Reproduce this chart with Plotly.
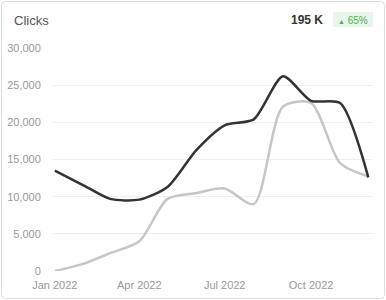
import plotly.graph_objects as go

months = ["2022-01-01", "2022-02-01", "2022-03-01", "2022-04-01", "2022-05-01", "2022-06-01",
          "2022-07-01", "2022-08-01", "2022-09-01", "2022-10-01", "2022-11-01", "2022-12-01"]
current = [13500, 11500, 9700, 9600, 11300, 16300, 19600, 20400, 26200, 22900, 22600, 12600]
previous = [0, 1000, 2400, 4000, 9700, 10500, 11100, 9000, 22100, 22600, 14500, 12700]
tick_vals = ["2022-01-01", "2022-04-01", "2022-07-01", "2022-10-01"]
tick_text = ["Jan 2022", "Apr 2022", "Jul 2022", "Oct 2022"]
y_ticks = [0, 5000, 10000, 15000, 20000, 25000, 30000]

W, H = 386, 300
L, R, T, B = 52, 13, 48, 29
pw, ph = W - L - R, H - T - B

def px(x):
    return (x - L) / pw

def py(y):
    return (H - B - y) / ph

fig = go.Figure()
fig.add_trace(go.Scatter(x=months, y=previous, mode="lines",
                         line=dict(color="#c6c6c6", width=2.5, shape="spline", smoothing=0.75),
                         hoverinfo="skip"))
fig.add_trace(go.Scatter(x=months, y=current, mode="lines",
                         line=dict(color="#333333", width=2.5, shape="spline", smoothing=0.7),
                         hoverinfo="skip"))

# card border with rounded corners
x0, x1, y0, y1, r = 1.5, 384.5, 1.5, 298.5, 4
path = (f"M {px(x0 + r)} {py(y0)} L {px(x1 - r)} {py(y0)} Q {px(x1)} {py(y0)} {px(x1)} {py(y0 + r)} "
        f"L {px(x1)} {py(y1 - r)} Q {px(x1)} {py(y1)} {px(x1 - r)} {py(y1)} "
        f"L {px(x0 + r)} {py(y1)} Q {px(x0)} {py(y1)} {px(x0)} {py(y1 - r)} "
        f"L {px(x0)} {py(y0 + r)} Q {px(x0)} {py(y0)} {px(x0 + r)} {py(y0)} Z")
shapes = [
    dict(type="path", xref="paper", yref="paper", path=path,
         line=dict(color="#dddddd", width=1), layer="below"),
    dict(type="rect", xref="paper", yref="paper", x0=px(333), x1=px(373), y0=py(12), y1=py(27),
         fillcolor="#e8f5e9", line=dict(width=0), layer="below"),
]

annotations = [
    dict(text="Clicks", xref="paper", yref="paper", x=px(12), y=py(20), xanchor="left", yanchor="middle",
         showarrow=False, font=dict(family="Liberation Sans, Arial", size=13, color="#555555")),
    dict(text="<b>195 K</b>", xref="paper", yref="paper", x=px(325), y=py(20), xanchor="right", yanchor="middle",
         showarrow=False, font=dict(family="Liberation Sans, Arial", size=12, color="#333333")),
    dict(text="<span style='font-size:7px'>▲</span> 65%", xref="paper", yref="paper", x=px(353), y=py(20),
         xanchor="center", yanchor="middle",
         showarrow=False, font=dict(family="Liberation Sans, Arial", size=10, color="#4caf50")),
]

fig.update_layout(
    width=W, height=H,
    margin=dict(l=L, r=R, t=T, b=B, pad=0, autoexpand=False),
    paper_bgcolor="white", plot_bgcolor="white",
    showlegend=False,
    shapes=shapes, annotations=annotations,
    font=dict(family="Liberation Sans, Arial", size=11, color="#999999"),
    xaxis=dict(range=["2021-12-29", "2022-12-06"], tickvals=tick_vals, ticktext=tick_text,
               showgrid=False, zeroline=False, showline=False, automargin=False,
               ticks="outside", ticklen=4, tickcolor="rgba(0,0,0,0)",
               tickfont=dict(size=11, color="#999999")),
    yaxis=dict(range=[0, 30000], tickvals=y_ticks, tickformat=",d",
               showgrid=True, gridcolor="#efefef", gridwidth=1, zeroline=False, showline=False,
               automargin=False,
               ticks="outside", ticklen=8, tickcolor="rgba(0,0,0,0)",
               tickfont=dict(size=11, color="#999999")),
)

fig.write_html("out.html", config={"displayModeBar": False})
